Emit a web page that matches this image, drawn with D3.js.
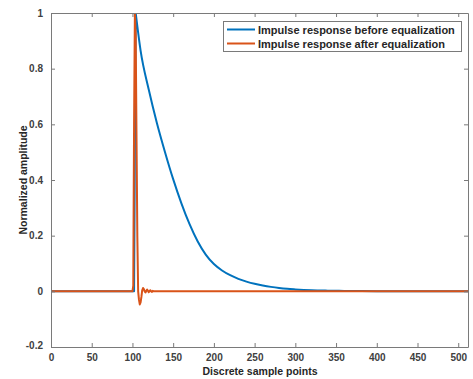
<!DOCTYPE html>
<html>
<head>
<meta charset="utf-8">
<script src="https://cdn.jsdelivr.net/npm/d3@7"></script>
<style>
  html, body { margin: 0; padding: 0; background: #fff; }
  svg { display: block; font-family: "Liberation Sans", Arial, sans-serif; }
</style>
</head>
<body>
<div id="chart"></div>
<script>
// impulse response before equalization (sample index / amplitude)
const blueX = [0, 102, 104, 110, 120, 130, 140, 150, 160, 170, 180, 190, 200, 210, 220, 230, 240, 250, 260, 270, 280, 290, 300, 320, 340, 360, 380, 400, 450, 512];
const blueY = [0, 0, 1, 0.865, 0.725, 0.605, 0.5, 0.403, 0.317, 0.242, 0.18, 0.132, 0.098, 0.075, 0.058, 0.045, 0.035, 0.027, 0.021, 0.016, 0.012, 0.009, 0.007, 0.004, 0.0025, 0.0015, 0.001, 0.0005, 0, 0];

// impulse response after equalization
const orangeX = [0, 100, 101, 102, 103, 104, 105, 106, 107, 108, 109, 110, 111, 112, 113, 114, 115, 116, 117, 118, 119, 120, 121, 122, 123, 124, 125, 126, 512];
const orangeY = [0, 0, 0.02, 0.6, 1, 0.92, 0.55, 0.2, 0.0, -0.03, -0.047, -0.04, -0.02, 0.004, 0.012, 0.008, 0.0, -0.004, 0.002, 0.006, 0.002, -0.003, 0.001, 0.004, 0.0, -0.002, 0.002, 0, 0];

const xTicks = [0, 50, 100, 150, 200, 250, 300, 350, 400, 450, 500];
const yTicks = [-0.2, 0, 0.2, 0.4, 0.6, 0.8, 1];
const legendLabels = ["Impulse response before equalization", "Impulse response after equalization"];

const W = 473, H = 379;
const pL = 51, pR = 468, pT = 13, pB = 347;
const colors = ["#0072BD", "#D95319"];

const svg = d3.select("#chart").append("svg")
  .attr("width", W).attr("height", H);

const x = d3.scaleLinear().domain([0, 512]).range([pL, pR]);
const y = d3.scaleLinear().domain([-0.2, 1]).range([pB, pT]);

svg.append("clipPath").attr("id", "clip")
  .append("rect")
  .attr("x", pL).attr("y", pT)
  .attr("width", pR - pL).attr("height", pB - pT);

const axisCol = "#7a7a7a";
const tickLen = 4;

// lines
const plot = svg.append("g").attr("clip-path", "url(#clip)");

const bluePts = blueX.map((v, i) => [v, blueY[i]]);
const peak = blueY.indexOf(d3.max(blueY));
const linear = d3.line().x(d => x(d[0])).y(d => y(d[1]));
const smooth = d3.line().x(d => x(d[0])).y(d => y(d[1])).curve(d3.curveMonotoneX);
// straight rise, smooth decay
const blueD = linear(bluePts.slice(0, peak + 1)) + smooth(bluePts.slice(peak)).replace(/^M/, "L");

plot.append("path")
  .attr("fill", "none")
  .attr("stroke", colors[0])
  .attr("stroke-width", 2)
  .attr("stroke-linejoin", "round")
  .attr("d", blueD);

plot.append("path")
  .datum(orangeX.map((v, i) => [v, orangeY[i]]))
  .attr("fill", "none")
  .attr("stroke", colors[1])
  .attr("stroke-width", 2)
  .attr("stroke-linejoin", "round")
  .attr("d", linear);

// axes (MATLAB style box, ticks inward)
const gx = svg.append("g").attr("transform", `translate(0,${pB})`)
  .call(d3.axisBottom(x).tickValues(xTicks).tickSizeInner(-tickLen).tickSizeOuter(0).tickPadding(7));
const gxTop = svg.append("g").attr("transform", `translate(0,${pT})`)
  .call(d3.axisTop(x).tickValues(xTicks).tickSizeInner(-tickLen).tickSizeOuter(0).tickFormat(""));
const gy = svg.append("g").attr("transform", `translate(${pL},0)`)
  .call(d3.axisLeft(y).tickValues(yTicks).tickSizeInner(-tickLen).tickSizeOuter(0).tickPadding(8)
    .tickFormat(d => String(+d.toFixed(1))));
const gyRight = svg.append("g").attr("transform", `translate(${pR},0)`)
  .call(d3.axisRight(y).tickValues(yTicks).tickSizeInner(-tickLen).tickSizeOuter(0).tickFormat(""));

[gx, gxTop, gy, gyRight].forEach(g => {
  g.select(".domain").attr("stroke", axisCol).attr("stroke-width", 1);
  g.selectAll(".tick line").attr("stroke", axisCol);
  g.selectAll("text")
    .attr("fill", "#404040")
    .attr("font-size", "10px")
    .attr("font-weight", "bold")
    .attr("font-family", "'Liberation Sans', Arial, sans-serif");
});
gy.selectAll(".tick text").filter(d => d === -0.2).attr("dy", "0.15em");

// axis titles
svg.append("text")
  .attr("x", (pL + pR) / 2 + 0.5)
  .attr("y", 375)
  .attr("text-anchor", "middle")
  .attr("fill", "#262626")
  .attr("font-size", "10.5px")
  .attr("font-weight", "bold")
  .text("Discrete sample points");

svg.append("text")
  .attr("transform", `translate(27,${(pT + pB) / 2}) rotate(-90)`)
  .attr("text-anchor", "middle")
  .attr("fill", "#262626")
  .attr("font-size", "10.5px")
  .attr("font-weight", "bold")
  .text("Normalized amplitude");

// legend
const lg = svg.append("g");
lg.append("rect")
  .attr("x", 223.5).attr("y", 21.5)
  .attr("width", 238).attr("height", 30)
  .attr("fill", "#fff")
  .attr("stroke", axisCol);

legendLabels.forEach((lab, i) => {
  const yy = 29.5 + i * 14;
  lg.append("line")
    .attr("x1", 227).attr("x2", 255)
    .attr("y1", yy).attr("y2", yy)
    .attr("stroke", colors[i]).attr("stroke-width", 2);
  lg.append("text")
    .attr("x", 258).attr("y", yy + 4)
    .attr("fill", "#262626")
    .attr("font-size", "11px")
    .attr("font-weight", "bold")
    .text(lab);
});
</script>
</body>
</html>
